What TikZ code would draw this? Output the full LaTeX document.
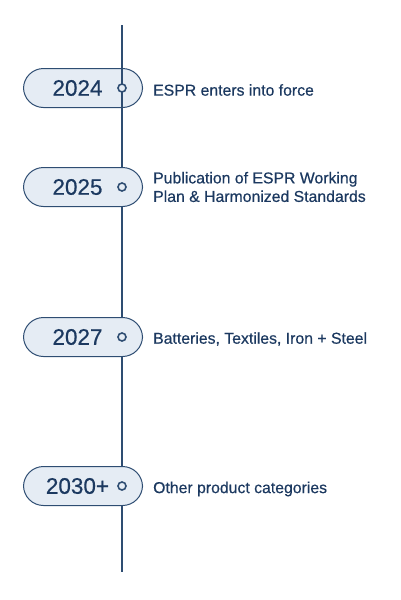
\documentclass[tikz,border=0pt]{standalone}
\usepackage{fontspec}
\setmainfont{Liberation Sans}[FakeBold=0.5]
\usetikzlibrary{positioning}
\definecolor{lineblue}{HTML}{2E4D72}
\definecolor{textblue}{HTML}{1C3960}
\definecolor{pillfill}{HTML}{E5ECF4}
\tikzset{
	pill/.style={draw=lineblue, fill=pillfill, line width=1pt, rounded corners=20pt,
		minimum width=119pt, minimum height=39pt, inner sep=0pt},
	year/.style={text=textblue, font=\fontsize{22.5}{26}\selectfont},
	event/.style={text=textblue, font=\fontsize{15.8}{18.5}\selectfont, anchor=west, align=left, inner sep=0pt},
	dot/.style={circle, draw=lineblue, fill=pillfill, line width=1.6pt, minimum size=8pt, inner sep=0pt}
}
\begin{document}
\begin{tikzpicture}[x=1pt, y=-1pt]
		\useasboundingbox (0,0) rectangle (400,600);
		\coordinate (top) at (122,25);
		\coordinate (bottom) at (122,572);

		% first pill lies below the line
		\node[pill] (p2024) at (83,88) {};
		\draw[lineblue, line width=1.4pt] (top) -- (bottom);
		\node[pill] (p2025) at (83,187) {};
		\node[pill] (p2027) at (83,337) {};
		\node[pill] (p2030) at (83,486) {};

		\foreach \p/\y in {p2024/2024, p2025/2025, p2027/2027, p2030/2030+} {
			\node[year] (y\p) at ([xshift=-5.5pt]\p.center) {\y};
			\node[dot] (d\p) at ([xshift=39pt]\p.center) {};
		}

		\node[event] (e2024) at (153,90) {ESPR enters into force};
		\node[event] (e2025) at (153,187) {Publication of ESPR Working\\Plan \& Harmonized Standards};
		\node[event] (e2027) at (153,339) {Batteries, Textiles, Iron + Steel};
		\node[event] (e2030) at (153,489) {Other product categories};
	\end{tikzpicture}
\end{document}
